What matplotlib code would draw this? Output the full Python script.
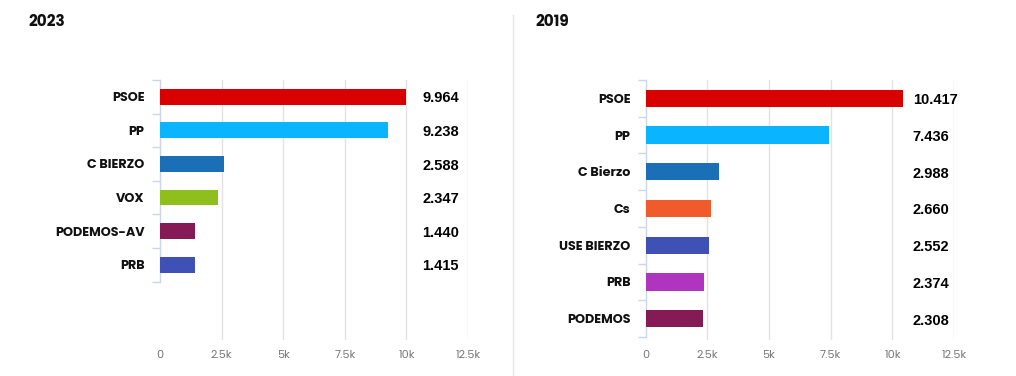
import matplotlib
matplotlib.use("Agg")
import matplotlib.pyplot as plt
from matplotlib.ticker import FuncFormatter, FixedLocator

# ---- data ----
title_2023 = "2023"
parties_2023 = ["PSOE", "PP", "C BIERZO", "VOX", "PODEMOS-AV", "PRB"]
votes_2023 = [9964, 9238, 2588, 2347, 1440, 1415]
labels_2023 = ["9.964", "9.238", "2.588", "2.347", "1.440", "1.415"]
colors_2023 = ["#d90000", "#0bb4ff", "#1b6fb7", "#8fbf1c", "#841b56", "#3f51b5"]

title_2019 = "2019"
parties_2019 = ["PSOE", "PP", "C Bierzo", "Cs", "USE BIERZO", "PRB", "PODEMOS"]
votes_2019 = [10417, 7436, 2988, 2660, 2552, 2374, 2308]
labels_2019 = ["10.417", "7.436", "2.988", "2.660", "2.552", "2.374", "2.308"]
colors_2019 = ["#d90000", "#0bb4ff", "#1b6fb7", "#f15a2b", "#3f51b5", "#b035be", "#841b56"]

x_ticks = [0, 2500, 5000, 7500, 10000, 12500]

W, H = 1016, 376
fig = plt.figure(figsize=(W / 100, H / 100), dpi=100)
fig.patch.set_facecolor("white")

CAT_FONT = ["Poppins", "Inter", "DejaVu Sans"]


def kfmt(v, pos):
    if v == 0:
        return "0"
    s = f"{v/1000:g}"
    return s + "k"


def draw(ax_rect, parties, votes, labels, colors, ymax, label_x):
    ax = fig.add_axes(ax_rect)
    n = len(parties)
    ys = list(range(n))
    ax.barh(ys, votes, height=0.47, color=colors, zorder=3)
    ax.set_xlim(0, 12500)
    ax.set_ylim(ymax, -0.5)
    ax.xaxis.set_major_locator(FixedLocator(x_ticks))
    ax.xaxis.set_major_formatter(FuncFormatter(kfmt))
    for xv in x_ticks[1:]:
        ax.axvline(xv, color="#e3e3e3", lw=1.0, zorder=1)
    for s in ["top", "right", "bottom"]:
        ax.spines[s].set_visible(False)
    ax.spines["left"].set_color("#ccd6eb")
    ax.spines["left"].set_linewidth(1.0)
    ax.spines["left"].set_bounds(-0.5, n - 0.5)
    ax.set_yticks(ys)
    ax.set_yticklabels(parties, fontsize=9.2, fontweight="bold", family=CAT_FONT, color="#111111")
    ax.tick_params(axis="y", which="major", length=0, pad=11)
    ax.set_yticks([i - 0.5 for i in range(n + 1)], minor=True)
    ax.tick_params(axis="y", which="minor", length=5.8, color="#ccd6eb", width=1.0)
    ax.tick_params(axis="x", length=0, pad=7.5, labelsize=8, labelcolor="#777777")
    for lab in ax.get_xticklabels():
        lab.set_family(CAT_FONT)
    for y, lab in zip(ys, labels):
        ax.text(label_x, y + 0.05, lab, ha="left", va="center", fontsize=10.5,
                fontweight="bold", family="Liberation Sans", color="black", zorder=4)
    ax.set_facecolor("none")
    return ax


top_px, bot_px = 80, 340
bottom = (H - bot_px) / H
height = (bot_px - top_px) / H

draw([160 / W, bottom, 308 / W, height], parties_2023, votes_2023, labels_2023,
     colors_2023, 7.24, 10650)
draw([645.7 / W, bottom, 308.3 / W, height], parties_2019, votes_2019, labels_2019,
     colors_2019, 6.58, 10830)

fig.text(28 / W, 1 - 22 / H, title_2023, fontsize=11, fontweight="bold",
         family=CAT_FONT, va="center", ha="left", color="#111111")
fig.text(535 / W, 1 - 22 / H, title_2019, fontsize=11, fontweight="bold",
         family=CAT_FONT, va="center", ha="left", color="#111111")

fig.add_artist(plt.Line2D([513 / W, 513 / W], [0, 1 - 15 / H], color="#e6e6e6", lw=1.0))

fig.savefig("out.png", dpi=100, facecolor="white")
